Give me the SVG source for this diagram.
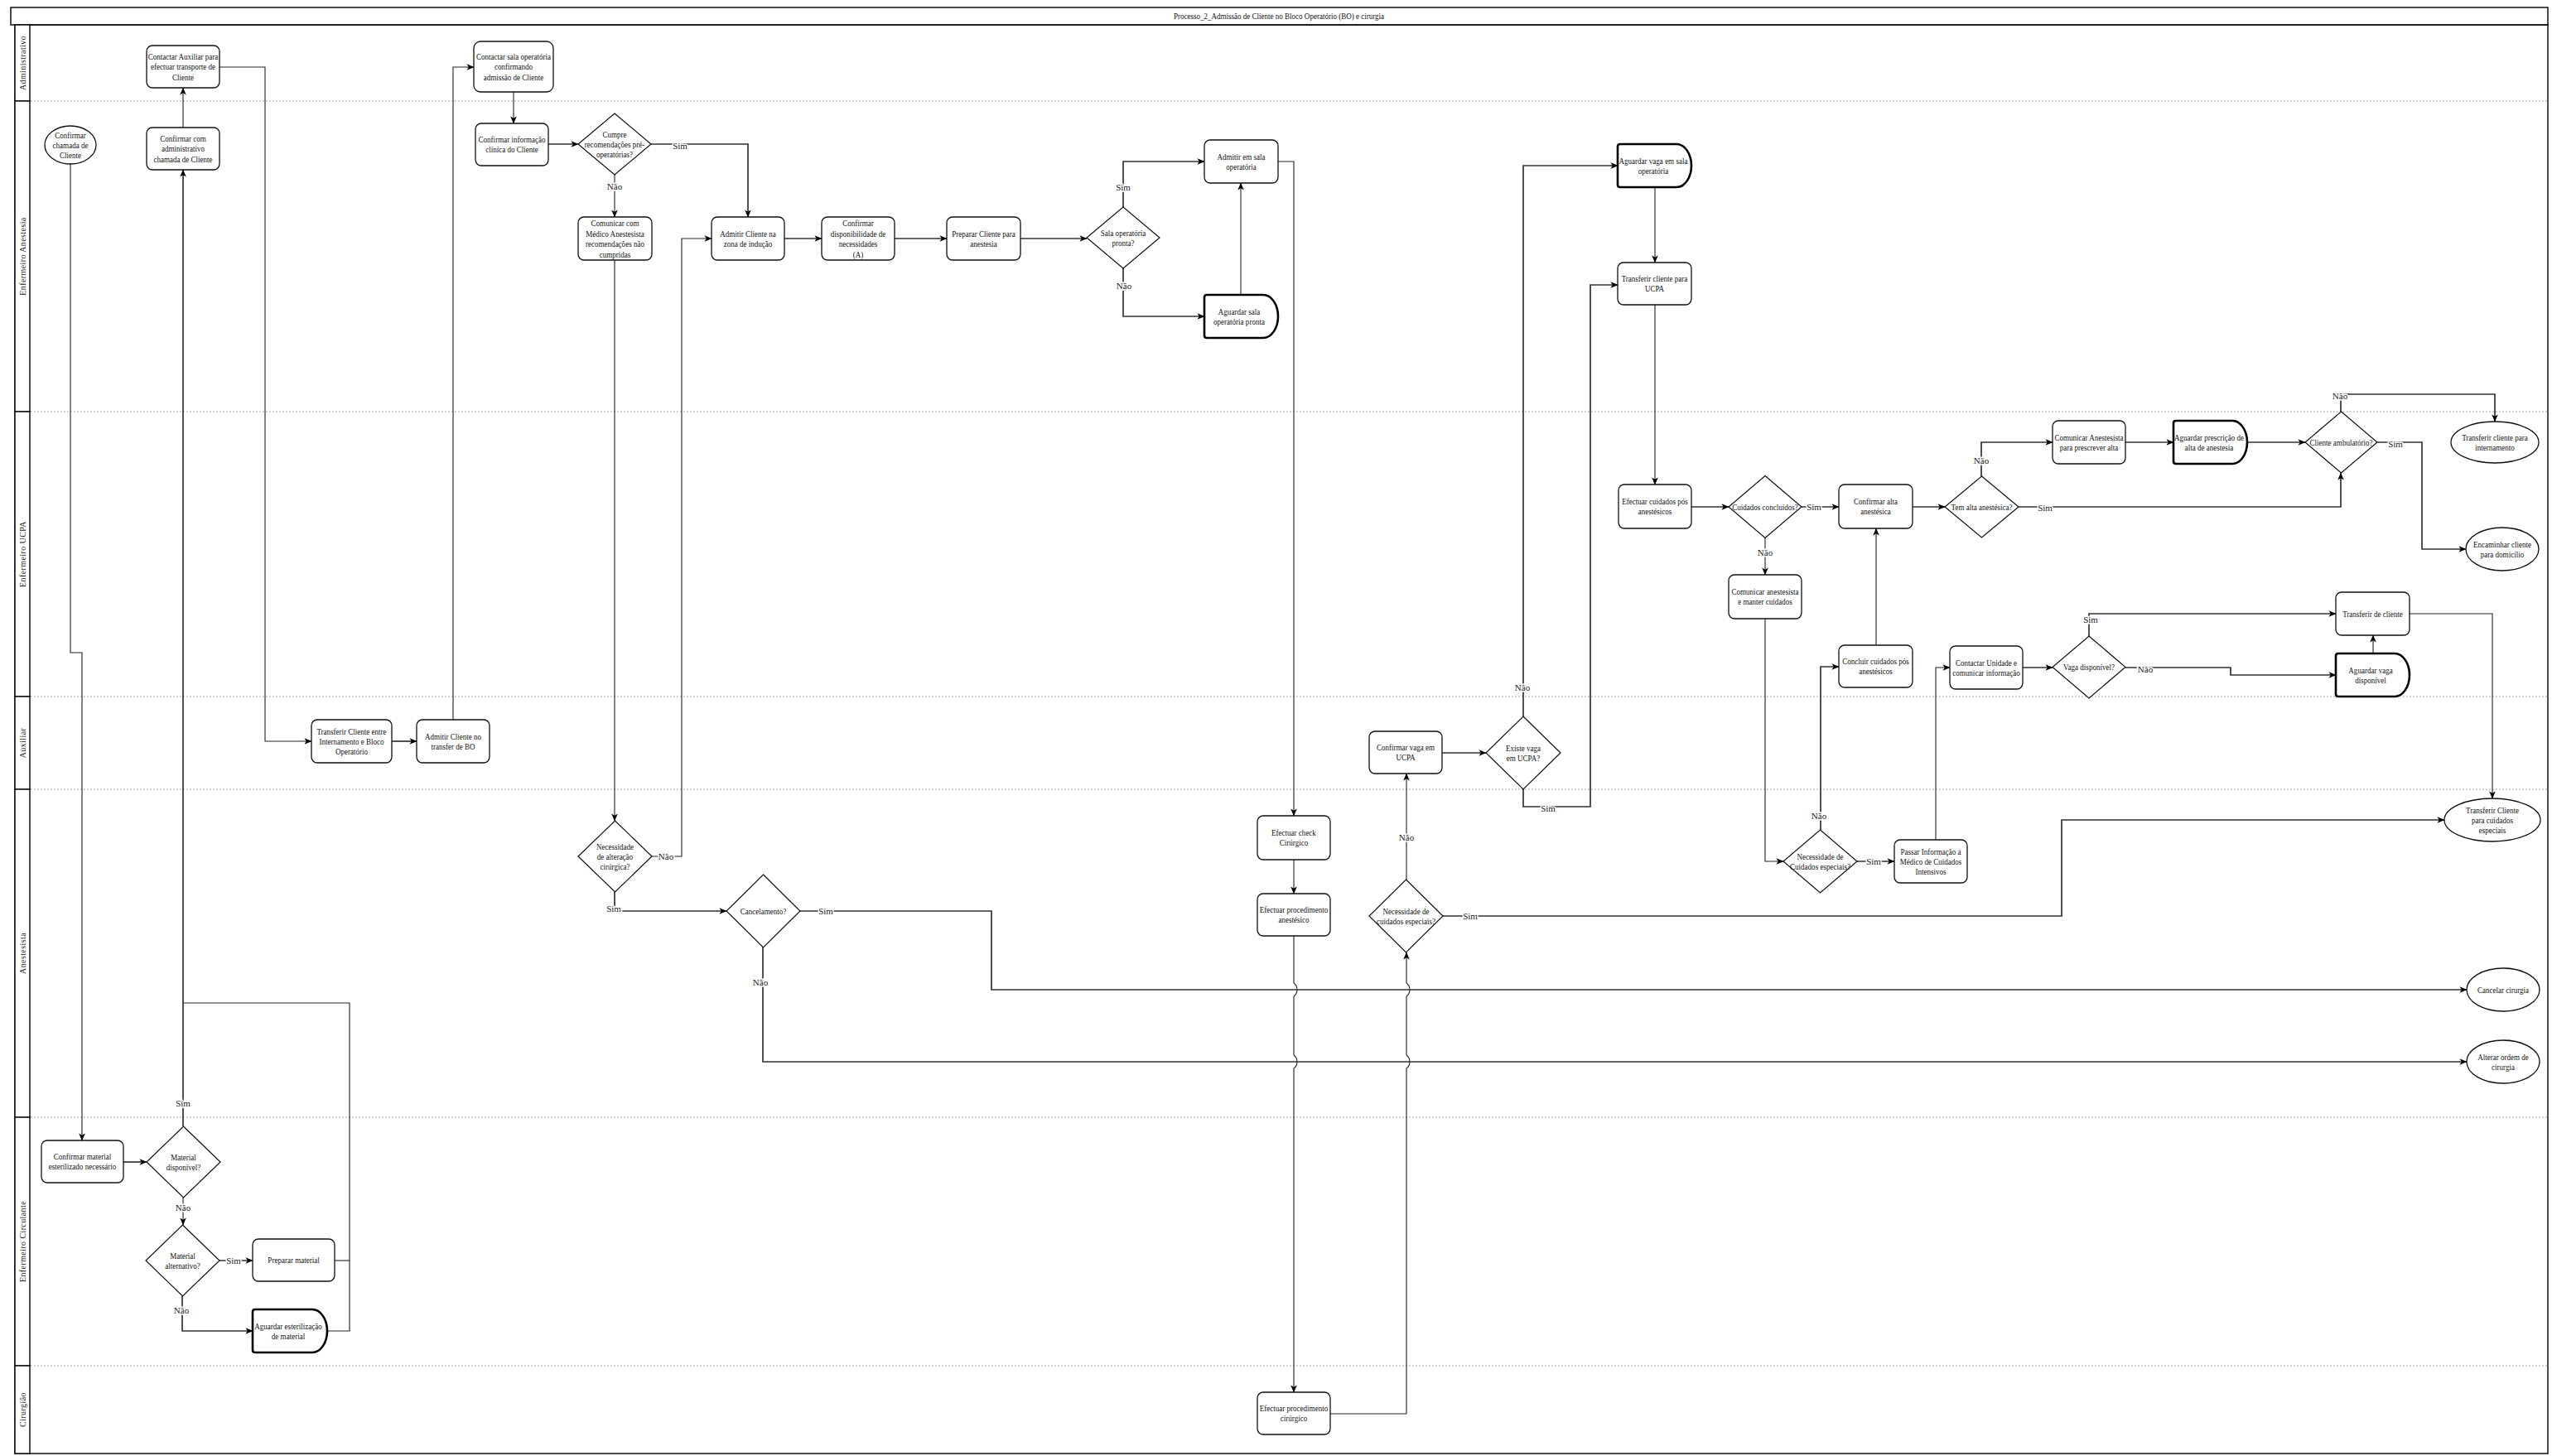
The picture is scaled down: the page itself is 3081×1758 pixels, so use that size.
<svg xmlns="http://www.w3.org/2000/svg" width="3081" height="1758" viewBox="0 0 3081 1758">
<defs>
<style>
.box{fill:#fff;stroke:#111;stroke-width:1.3}
.dia{fill:#fff;stroke:#111;stroke-width:1.2}
.delay{fill:#fff;stroke:#000;stroke-width:2.6}
.ell{fill:#fff;stroke:#111;stroke-width:1.3}
.t{font-family:"Liberation Serif","Times New Roman",serif;font-size:11px;fill:#111;text-anchor:middle}
.lane{font-family:"Liberation Serif","Times New Roman",serif;font-size:10px;fill:#222;text-anchor:middle;letter-spacing:0.4px}
.lbl{font-family:"Liberation Serif","Times New Roman",serif;font-size:11px;fill:#222;text-anchor:middle;paint-order:stroke;stroke:#fff;stroke-width:3px}
.e{fill:none;stroke:#222;stroke-width:1.1}
.d{fill:none;stroke:#333;stroke-width:1.7}
.div{stroke:#8a8a8a;stroke-width:1;stroke-dasharray:1.5 2.5}
.frame{fill:none;stroke:#111;stroke-width:1.5}
.hdr{fill:#fff;stroke:#111;stroke-width:1.5}
</style>
<marker id="a" viewBox="0 0 10 10" refX="9.5" refY="5" markerWidth="9" markerHeight="9" markerUnits="userSpaceOnUse" orient="auto">
<path d="M0,0.8 L10,5 L0,9.2 L2.6,5 z" fill="#000"/>
</marker>
</defs>
<rect width="3081" height="1758" fill="#fff"/>

<g id="pool">
<rect class="frame" x="13" y="9" width="3063" height="21"/>
<text class="t" transform="translate(1544 23) scale(0.82 1)">Processo_2_Admissão de Cliente no Bloco Operatório (BO) e cirurgia</text>
<rect class="frame" x="18" y="30" width="3058" height="1725"/>
<rect class="hdr" x="18" y="30" width="18" height="92"/>
<rect class="hdr" x="18" y="122" width="18" height="375"/>
<rect class="hdr" x="18" y="497" width="18" height="344"/>
<rect class="hdr" x="18" y="841" width="18" height="112"/>
<rect class="hdr" x="18" y="953" width="18" height="396"/>
<rect class="hdr" x="18" y="1349" width="18" height="300"/>
<rect class="hdr" x="18" y="1649" width="18" height="106"/>
<text class="lane" transform="translate(30.5 76) rotate(-90)">Administrativo</text>
<text class="lane" transform="translate(30.5 309.5) rotate(-90)">Enfermeiro Anestesia</text>
<text class="lane" transform="translate(30.5 669) rotate(-90)">Enfermeiro UCPA</text>
<text class="lane" transform="translate(30.5 897) rotate(-90)">Auxiliar</text>
<text class="lane" transform="translate(30.5 1151) rotate(-90)">Anestesista</text>
<text class="lane" transform="translate(30.5 1499) rotate(-90)">Enfermeiro Circulante</text>
<text class="lane" transform="translate(30.5 1702) rotate(-90)">Cirurgião</text>
<line class="div" x1="37" y1="122" x2="3075" y2="122"/>
<line class="div" x1="37" y1="497" x2="3075" y2="497"/>
<line class="div" x1="37" y1="841" x2="3075" y2="841"/>
<line class="div" x1="37" y1="953" x2="3075" y2="953"/>
<line class="div" x1="37" y1="1349" x2="3075" y2="1349"/>
<line class="div" x1="37" y1="1649" x2="3075" y2="1649"/>
</g>

<g id="connectors">
<path class="e" marker-end="url(#a)" d="M85,198 V788 H99 V1377"/>
<path class="e" marker-end="url(#a)" d="M221,154 V106"/>
<path class="e" marker-end="url(#a)" d="M265,81 H320 V895 H376"/>
<path class="d" marker-end="url(#a)" d="M473,895 H503"/>
<path class="e" marker-end="url(#a)" d="M547,869 V81 H572"/>
<path class="e" marker-end="url(#a)" d="M620,111 V149"/>
<path class="d" marker-end="url(#a)" d="M662,174 H698"/>
<path class="d" marker-end="url(#a)" d="M786,174 H903 V262"/>
<path class="e" marker-end="url(#a)" d="M742,211 V262"/>
<path class="e" marker-end="url(#a)" d="M742,314 V991"/>
<path class="e" marker-end="url(#a)" d="M787,1034 H823 V288 H859"/>
<path class="d" marker-end="url(#a)" d="M742,1077 V1100 H877"/>
<path class="d" marker-end="url(#a)" d="M947,288 H992"/>
<path class="d" marker-end="url(#a)" d="M1080,288 H1143"/>
<path class="d" marker-end="url(#a)" d="M1232,288 H1312"/>
<path class="d" marker-end="url(#a)" d="M1356,250 V195 H1454"/>
<path class="d" marker-end="url(#a)" d="M1356,324 V382 H1454"/>
<path class="e" marker-end="url(#a)" d="M1498,356 V221"/>
<path class="e" marker-end="url(#a)" d="M1543,195 H1562 V985"/>
<path class="e" marker-end="url(#a)" d="M1562,1038 V1079"/>
<path class="e" marker-end="url(#a)" d="M1562,1130 V1187 A10,10 0 0 1 1562,1203 V1274 A10,10 0 0 1 1562,1290 V1681"/>
<path class="e" marker-end="url(#a)" d="M1606,1707 H1698 V1290 A10,10 0 0 0 1698,1274 V1203 A10,10 0 0 0 1698,1187 V1150"/>
<path class="e" marker-end="url(#a)" d="M1698,1062 V934"/>
<path class="d" marker-end="url(#a)" d="M1742,1106 H2489 V990 H2951"/>
<path class="d" marker-end="url(#a)" d="M1741,909 H1794"/>
<path class="d" marker-end="url(#a)" d="M1839,865 V200 H1953"/>
<path class="d" marker-end="url(#a)" d="M1839,953 V974 H1920 V344 H1953"/>
<path class="e" marker-end="url(#a)" d="M1998,226 V317"/>
<path class="e" marker-end="url(#a)" d="M1998,368 V585"/>
<path class="d" marker-end="url(#a)" d="M2042,612 H2087"/>
<path class="d" marker-end="url(#a)" d="M2175,612 H2220"/>
<path class="e" marker-end="url(#a)" d="M2131,649 V694"/>
<path class="e" marker-end="url(#a)" d="M2131,747 V1040 H2153"/>
<path class="d" marker-end="url(#a)" d="M2198,1002 V805 H2220"/>
<path class="d" marker-end="url(#a)" d="M2242,1040 H2287"/>
<path class="e" marker-end="url(#a)" d="M2337,1014 V806 H2354"/>
<path class="e" marker-end="url(#a)" d="M2265,779 V638"/>
<path class="d" marker-end="url(#a)" d="M2309,612 H2348"/>
<path class="d" marker-end="url(#a)" d="M2437,612 H2826 V571"/>
<path class="d" marker-end="url(#a)" d="M2392,575 V534 H2478"/>
<path class="d" marker-end="url(#a)" d="M2566,534 H2624"/>
<path class="d" marker-end="url(#a)" d="M2713,534 H2783"/>
<path class="d" marker-end="url(#a)" d="M2870,534 H2924 V663 H2977"/>
<path class="d" marker-end="url(#a)" d="M2826,497 V476 H3012 V509"/>
<path class="d" marker-end="url(#a)" d="M2442,806 H2478"/>
<path class="d" marker-end="url(#a)" d="M2522,768 V741 H2820"/>
<path class="d" marker-end="url(#a)" d="M2566,806 H2693 V815 H2820"/>
<path class="e" marker-end="url(#a)" d="M2865,789 V767"/>
<path class="e" marker-end="url(#a)" d="M2909,741 H3009 V964"/>
<path class="d" marker-end="url(#a)" d="M966,1100 H1197 V1195 H2978"/>
<path class="d" marker-end="url(#a)" d="M921,1143 V1282 H2978"/>
<path class="d" marker-end="url(#a)" d="M149,1403 H177"/>
<path class="d" stroke-width="2.2" marker-end="url(#a)" d="M221,1360 V205"/>
<path class="e" marker-end="url(#a)" d="M221,1446 V1479"/>
<path class="d" marker-end="url(#a)" d="M265,1522 H305"/>
<path class="d" marker-end="url(#a)" d="M220,1565 V1607 H305"/>
<path class="e" d="M404,1522 H422"/>
<path class="e" d="M395,1607 H422 V1211 H221"/>
<g id="edge-labels">
<text class="lbl" x="742" y="229">Não</text>
<text class="lbl" x="821" y="180">Sim</text>
<text class="lbl" x="1356" y="230">Sim</text>
<text class="lbl" x="1357" y="349">Não</text>
<text class="lbl" x="804" y="1038">Não</text>
<text class="lbl" x="741" y="1101">Sim</text>
<text class="lbl" x="997" y="1104">Sim</text>
<text class="lbl" x="918" y="1190">Não</text>
<text class="lbl" x="1698" y="1015">Não</text>
<text class="lbl" x="1775" y="1110">Sim</text>
<text class="lbl" x="1838" y="834">Não</text>
<text class="lbl" x="1869" y="980">Sim</text>
<text class="lbl" x="2190" y="616">Sim</text>
<text class="lbl" x="2131" y="671">Não</text>
<text class="lbl" x="2196" y="989">Não</text>
<text class="lbl" x="2262" y="1044">Sim</text>
<text class="lbl" x="2469" y="617">Sim</text>
<text class="lbl" x="2392" y="560">Não</text>
<text class="lbl" x="2892" y="540">Sim</text>
<text class="lbl" x="2825" y="482">Não</text>
<text class="lbl" x="2524" y="752">Sim</text>
<text class="lbl" x="2590" y="812">Não</text>
<text class="lbl" x="221" y="1336">Sim</text>
<text class="lbl" x="221" y="1462">Não</text>
<text class="lbl" x="282" y="1526">Sim</text>
<text class="lbl" x="219" y="1586">Não</text>
</g>
</g>

<g id="n-chamada"><ellipse class="ell" cx="85" cy="175" rx="31" ry="23"/><text class="t" transform="translate(85 175) scale(0.82 1)"><tspan x="0" y="-8.5">Confirmar</tspan><tspan x="0" y="3.9">chamada de</tspan><tspan x="0" y="16.3">Cliente</tspan></text></g>
<g id="n-contactar-auxiliar"><rect class="box" x="177" y="55" width="88" height="51" rx="7"/><text class="t" transform="translate(221 80.5) scale(0.82 1)"><tspan x="0" y="-8.5">Contactar Auxiliar para</tspan><tspan x="0" y="3.9">efectuar transporte de</tspan><tspan x="0" y="16.3">Cliente</tspan></text></g>
<g id="n-confirmar-admin"><rect class="box" x="177" y="154" width="88" height="51" rx="7"/><text class="t" transform="translate(221 179.5) scale(0.82 1)"><tspan x="0" y="-8.5">Confirmar com</tspan><tspan x="0" y="3.9">administrativo</tspan><tspan x="0" y="16.3">chamada de Cliente</tspan></text></g>
<g id="n-contactar-sala"><rect class="box" x="572" y="50" width="96" height="61" rx="8"/><text class="t" transform="translate(620 80.5) scale(0.82 1)"><tspan x="0" y="-8.5">Contactar sala operatória</tspan><tspan x="0" y="3.9">confirmando</tspan><tspan x="0" y="16.3">admissão de Cliente</tspan></text></g>
<g id="n-confirmar-info"><rect class="box" x="574" y="149" width="88" height="51" rx="7"/><text class="t" transform="translate(618 174.5) scale(0.82 1)"><tspan x="0" y="-2.5">Confirmar informação</tspan><tspan x="0" y="9.9">clínica do Cliente</tspan></text></g>
<g id="n-cumpre"><polygon class="dia" points="742,137 786,174 742,211 698,174"/><text class="t" transform="translate(742 174) scale(0.82 1)"><tspan x="0" y="-8.5">Cumpre</tspan><tspan x="0" y="3.9">recomendações pré-</tspan><tspan x="0" y="16.3">operatórias?</tspan></text></g>
<g id="n-comunicar-medico"><rect class="box" x="698" y="262" width="89" height="52" rx="7"/><text class="t" transform="translate(742.5 288) scale(0.82 1)"><tspan x="0" y="-14.6">Comunicar com</tspan><tspan x="0" y="-2.2">Médico Anestesista</tspan><tspan x="0" y="10.2">recomendações não</tspan><tspan x="0" y="22.6">cumpridas</tspan></text></g>
<g id="n-admitir-inducao"><rect class="box" x="859" y="262" width="88" height="52" rx="7"/><text class="t" transform="translate(903 288) scale(0.82 1)"><tspan x="0" y="-2.5">Admitir Cliente na</tspan><tspan x="0" y="9.9">zona de indução</tspan></text></g>
<g id="n-confirmar-disp"><rect class="box" x="992" y="262" width="88" height="52" rx="7"/><text class="t" transform="translate(1036 288) scale(0.82 1)"><tspan x="0" y="-14.6">Confirmar</tspan><tspan x="0" y="-2.2">disponibilidade de</tspan><tspan x="0" y="10.2">necessidades</tspan><tspan x="0" y="22.6">(A)</tspan></text></g>
<g id="n-preparar-cliente"><rect class="box" x="1143" y="262" width="89" height="52" rx="7"/><text class="t" transform="translate(1187.5 288) scale(0.82 1)"><tspan x="0" y="-2.5">Preparar Cliente para</tspan><tspan x="0" y="9.9">anestesia</tspan></text></g>
<g id="n-sala-pronta"><polygon class="dia" points="1356,250 1400,287 1356,324 1312,287"/><text class="t" transform="translate(1356 287) scale(0.82 1)"><tspan x="0" y="-2.5">Sala operatória</tspan><tspan x="0" y="9.9">pronta?</tspan></text></g>
<g id="n-admitir-sala"><rect class="box" x="1454" y="169" width="89" height="52" rx="7"/><text class="t" transform="translate(1498.5 195) scale(0.82 1)"><tspan x="0" y="-2.5">Admitir em sala</tspan><tspan x="0" y="9.9">operatória</tspan></text></g>
<g id="n-aguardar-sala"><path class="delay" d="M1457,356 H1525 A18,26 0 0 1 1525,408 H1457 Q1454,408 1454,405 V359 Q1454,356 1457,356 Z"/><text class="t" transform="translate(1496 382) scale(0.82 1)"><tspan x="0" y="-2.5">Aguardar sala</tspan><tspan x="0" y="9.9">operatória pronta</tspan></text></g>
<g id="n-aguardar-vaga-sala"><path class="delay" d="M1956,174 H2024 A18,26 0 0 1 2024,226 H1956 Q1953,226 1953,223 V177 Q1953,174 1956,174 Z"/><text class="t" transform="translate(1996 200) scale(0.82 1)"><tspan x="0" y="-2.5">Aguardar vaga em sala</tspan><tspan x="0" y="9.9">operatória</tspan></text></g>
<g id="n-transferir-ucpa"><rect class="box" x="1953" y="317" width="89" height="51" rx="7"/><text class="t" transform="translate(1997.5 342.5) scale(0.82 1)"><tspan x="0" y="-2.5">Transferir cliente para</tspan><tspan x="0" y="9.9">UCPA</tspan></text></g>
<g id="n-efectuar-cuidados"><rect class="box" x="1954" y="585" width="88" height="53" rx="7"/><text class="t" transform="translate(1998 611.5) scale(0.82 1)"><tspan x="0" y="-2.5">Efectuar cuidados pós</tspan><tspan x="0" y="9.9">anestésicos</tspan></text></g>
<g id="n-cuidados-concluidos"><polygon class="dia" points="2131,574.5 2175,612 2131,649.5 2087,612"/><text class="t" transform="translate(2131 612) scale(0.82 1)"><tspan x="0" y="3.9">Cuidados concluídos?</tspan></text></g>
<g id="n-comunicar-manter"><rect class="box" x="2087" y="694" width="88" height="53" rx="7"/><text class="t" transform="translate(2131 720.5) scale(0.82 1)"><tspan x="0" y="-2.5">Comunicar anestesista</tspan><tspan x="0" y="9.9">e manter cuidados</tspan></text></g>
<g id="n-confirmar-alta"><rect class="box" x="2220" y="585" width="89" height="53" rx="7"/><text class="t" transform="translate(2264.5 611.5) scale(0.82 1)"><tspan x="0" y="-2.5">Confirmar alta</tspan><tspan x="0" y="9.9">anestésica</tspan></text></g>
<g id="n-tem-alta"><polygon class="dia" points="2392.5,575 2437,612 2392.5,649 2348,612"/><text class="t" transform="translate(2392.5 612) scale(0.82 1)"><tspan x="0" y="3.9">Tem alta anestésica?</tspan></text></g>
<g id="n-comunicar-anest"><rect class="box" x="2478" y="508" width="88" height="52" rx="7"/><text class="t" transform="translate(2522 534) scale(0.82 1)"><tspan x="0" y="-2.5">Comunicar Anestesista</tspan><tspan x="0" y="9.9">para prescrever alta</tspan></text></g>
<g id="n-aguardar-presc"><path class="delay" d="M2627,508 H2695 A18,26 0 0 1 2695,560 H2627 Q2624,560 2624,557 V511 Q2624,508 2627,508 Z"/><text class="t" transform="translate(2667 534) scale(0.82 1)"><tspan x="0" y="-2.5">Aguardar prescrição de</tspan><tspan x="0" y="9.9">alta de anestesia</tspan></text></g>
<g id="n-cliente-amb"><polygon class="dia" points="2826.5,497 2870,534 2826.5,571 2783,534"/><text class="t" transform="translate(2826.5 534) scale(0.82 1)"><tspan x="0" y="3.9">Cliente ambulatório?</tspan></text></g>
<g id="n-internamento"><ellipse class="ell" cx="3012" cy="534" rx="53" ry="25"/><text class="t" transform="translate(3012 534) scale(0.82 1)"><tspan x="0" y="-2.5">Transferir cliente para</tspan><tspan x="0" y="9.9">internamento</tspan></text></g>
<g id="n-domicilio"><ellipse class="ell" cx="3021" cy="663" rx="44" ry="26"/><text class="t" transform="translate(3021 663) scale(0.82 1)"><tspan x="0" y="-2.5">Encaminhar cliente</tspan><tspan x="0" y="9.9">para domicílio</tspan></text></g>
<g id="n-transferir-de-cliente"><rect class="box" x="2820" y="715" width="89" height="52" rx="7"/><text class="t" transform="translate(2864.5 741) scale(0.82 1)"><tspan x="0" y="3.9">Transferir de cliente</tspan></text></g>
<g id="n-aguardar-vaga-disp"><path class="delay" d="M2823,789 H2891 A18,26 0 0 1 2891,841 H2823 Q2820,841 2820,838 V792 Q2820,789 2823,789 Z"/><text class="t" transform="translate(2862 815) scale(0.82 1)"><tspan x="0" y="-2.5">Aguardar vaga</tspan><tspan x="0" y="9.9">disponível</tspan></text></g>
<g id="n-vaga-disp"><polygon class="dia" points="2522,768 2566,805.5 2522,843 2478,805.5"/><text class="t" transform="translate(2522 805.5) scale(0.82 1)"><tspan x="0" y="3.9">Vaga disponível?</tspan></text></g>
<g id="n-contactar-unidade"><rect class="box" x="2354" y="780" width="88" height="52" rx="7"/><text class="t" transform="translate(2398 806) scale(0.82 1)"><tspan x="0" y="-2.5">Contactar Unidade e</tspan><tspan x="0" y="9.9">comunicar informação</tspan></text></g>
<g id="n-concluir"><rect class="box" x="2220" y="779" width="89" height="51" rx="7"/><text class="t" transform="translate(2264.5 804.5) scale(0.82 1)"><tspan x="0" y="-2.5">Concluir cuidados pós</tspan><tspan x="0" y="9.9">anestésicos</tspan></text></g>
<g id="n-transferir-entre"><rect class="box" x="376" y="869" width="97" height="52" rx="7"/><text class="t" transform="translate(424.5 895) scale(0.82 1)"><tspan x="0" y="-8.5">Transferir Cliente entre</tspan><tspan x="0" y="3.9">Internamento e Bloco</tspan><tspan x="0" y="16.3">Operatório</tspan></text></g>
<g id="n-admitir-transfer"><rect class="box" x="503" y="869" width="88" height="52" rx="7"/><text class="t" transform="translate(547 895) scale(0.82 1)"><tspan x="0" y="-2.5">Admitir Cliente no</tspan><tspan x="0" y="9.9">transfer de BO</tspan></text></g>
<g id="n-confirmar-vaga-ucpa"><rect class="box" x="1653" y="883" width="88" height="51" rx="7"/><text class="t" transform="translate(1697 908.5) scale(0.82 1)"><tspan x="0" y="-2.5">Confirmar vaga em</tspan><tspan x="0" y="9.9">UCPA</tspan></text></g>
<g id="n-existe-vaga"><polygon class="dia" points="1839,865 1884,909 1839,953 1794,909"/><text class="t" transform="translate(1839 909) scale(0.82 1)"><tspan x="0" y="-2.5">Existe vaga</tspan><tspan x="0" y="9.9">em UCPA?</tspan></text></g>
<g id="n-alteracao"><polygon class="dia" points="742.5,991 787,1034 742.5,1077 698,1034"/><text class="t" transform="translate(742.5 1034) scale(0.82 1)"><tspan x="0" y="-8.5">Necessidade</tspan><tspan x="0" y="3.9">de alteração</tspan><tspan x="0" y="16.3">cirúrgica?</tspan></text></g>
<g id="n-cancelamento"><polygon class="dia" points="921.5,1056 966,1100 921.5,1144 877,1100"/><text class="t" transform="translate(921.5 1100) scale(0.82 1)"><tspan x="0" y="3.9">Cancelamento?</tspan></text></g>
<g id="n-check"><rect class="box" x="1518" y="985" width="88" height="53" rx="7"/><text class="t" transform="translate(1562 1011.5) scale(0.82 1)"><tspan x="0" y="-2.5">Efectuar check</tspan><tspan x="0" y="9.9">Cirúrgico</tspan></text></g>
<g id="n-proc-anest"><rect class="box" x="1518" y="1079" width="88" height="51" rx="7"/><text class="t" transform="translate(1562 1104.5) scale(0.82 1)"><tspan x="0" y="-2.5">Efectuar procedimento</tspan><tspan x="0" y="9.9">anestésico</tspan></text></g>
<g id="n-necessidade-l"><polygon class="dia" points="1697.5,1062 1742,1106 1697.5,1150 1653,1106"/><text class="t" transform="translate(1697.5 1106) scale(0.82 1)"><tspan x="0" y="-2.5">Necessidade de</tspan><tspan x="0" y="9.9">cuidados especiais?</tspan></text></g>
<g id="n-necessidade-r"><polygon class="dia" points="2197.5,1002 2242,1040 2197.5,1078 2153,1040"/><text class="t" transform="translate(2197.5 1040) scale(0.82 1)"><tspan x="0" y="-2.5">Necessidade de</tspan><tspan x="0" y="9.9">Cuidados especiais?</tspan></text></g>
<g id="n-passar"><rect class="box" x="2287" y="1014" width="88" height="52" rx="7"/><text class="t" transform="translate(2331 1040) scale(0.82 1)"><tspan x="0" y="-8.5">Passar Informação a</tspan><tspan x="0" y="3.9">Médico de Cuidados</tspan><tspan x="0" y="16.3">Intensivos</tspan></text></g>
<g id="n-cuidados-especiais"><ellipse class="ell" cx="3009" cy="990" rx="58" ry="26"/><text class="t" transform="translate(3009 990) scale(0.82 1)"><tspan x="0" y="-8.5">Transferir Cliente</tspan><tspan x="0" y="3.9">para cuidados</tspan><tspan x="0" y="16.3">especiais</tspan></text></g>
<g id="n-cancelar"><ellipse class="ell" cx="3022" cy="1195" rx="44" ry="26"/><text class="t" transform="translate(3022 1195) scale(0.82 1)"><tspan x="0" y="3.9">Cancelar cirurgia</tspan></text></g>
<g id="n-alterar"><ellipse class="ell" cx="3022" cy="1282" rx="44" ry="26"/><text class="t" transform="translate(3022 1282) scale(0.82 1)"><tspan x="0" y="-2.5">Alterar ordem de</tspan><tspan x="0" y="9.9">cirurgia</tspan></text></g>
<g id="n-confirmar-material"><rect class="box" x="50" y="1377" width="99" height="51" rx="7"/><text class="t" transform="translate(99.5 1402.5) scale(0.82 1)"><tspan x="0" y="-2.5">Confirmar material</tspan><tspan x="0" y="9.9">esterilizado necessário</tspan></text></g>
<g id="n-material-disp"><polygon class="dia" points="221.5,1360 266,1403 221.5,1446 177,1403"/><text class="t" transform="translate(221.5 1403) scale(0.82 1)"><tspan x="0" y="-2.5">Material</tspan><tspan x="0" y="9.9">disponível?</tspan></text></g>
<g id="n-material-alt"><polygon class="dia" points="220.5,1479 265,1522 220.5,1565 176,1522"/><text class="t" transform="translate(220.5 1522) scale(0.82 1)"><tspan x="0" y="-2.5">Material</tspan><tspan x="0" y="9.9">alternativo?</tspan></text></g>
<g id="n-preparar-material"><rect class="box" x="305" y="1496" width="99" height="51" rx="7"/><text class="t" transform="translate(354.5 1521.5) scale(0.82 1)"><tspan x="0" y="3.9">Preparar material</tspan></text></g>
<g id="n-aguardar-ester"><path class="delay" d="M308,1581 H377 A18,26 0 0 1 377,1633 H308 Q305,1633 305,1630 V1584 Q305,1581 308,1581 Z"/><text class="t" transform="translate(348 1607) scale(0.82 1)"><tspan x="0" y="-2.5">Aguardar esterilização</tspan><tspan x="0" y="9.9">de material</tspan></text></g>
<g id="n-proc-cir"><rect class="box" x="1518" y="1681" width="88" height="51" rx="7"/><text class="t" transform="translate(1562 1706.5) scale(0.82 1)"><tspan x="0" y="-2.5">Efectuar procedimento</tspan><tspan x="0" y="9.9">cirúrgico</tspan></text></g>
</svg>
